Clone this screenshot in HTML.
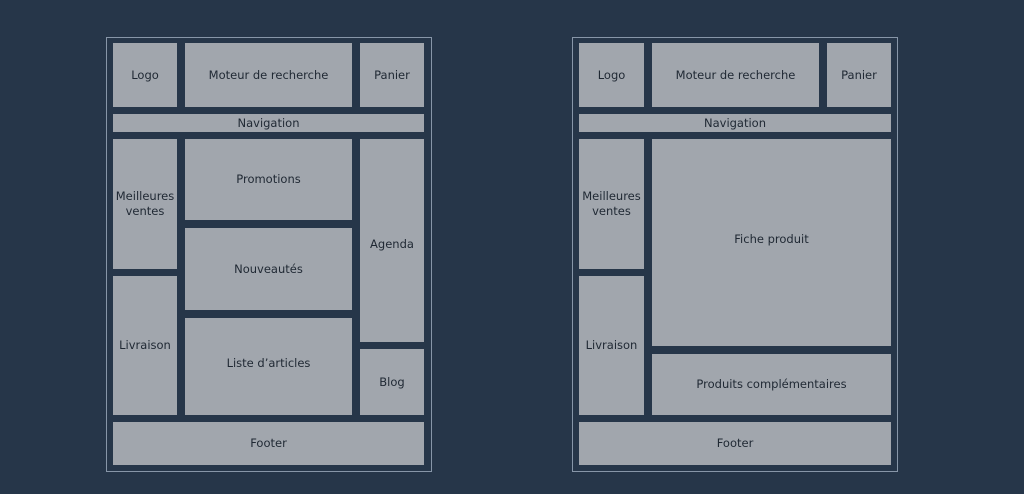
<!DOCTYPE html>
<html><head><meta charset="utf-8"><style>
body{margin:0;width:1024px;height:494px;background:#263649;position:relative;overflow:hidden;font-family:"DejaVu Sans","Liberation Sans",sans-serif;}
.f{position:absolute;border:1px solid #8796a8;box-sizing:border-box;}
.b{position:absolute;background:#a1a6ad;color:#1f2833;font-size:11.5px;display:flex;align-items:center;justify-content:center;text-align:center;line-height:15px;}
</style></head><body>
<div class="f" style="left:106px;top:37px;width:326px;height:435px"></div>
<div class="b" style="left:113px;top:43px;width:64px;height:64px">Logo</div>
<div class="b" style="left:185px;top:43px;width:167px;height:64px">Moteur de recherche</div>
<div class="b" style="left:360px;top:43px;width:64px;height:64px">Panier</div>
<div class="b" style="left:113px;top:114px;width:311px;height:18px">Navigation</div>
<div class="b" style="left:113px;top:139px;width:64px;height:130px">Meilleures<br>ventes</div>
<div class="b" style="left:113px;top:276px;width:64px;height:139px">Livraison</div>
<div class="b" style="left:185px;top:139px;width:167px;height:81px">Promotions</div>
<div class="b" style="left:185px;top:228px;width:167px;height:82px">Nouveautés</div>
<div class="b" style="left:185px;top:318px;width:167px;height:97px;padding-bottom:6px;box-sizing:border-box">Liste d’articles</div>
<div class="b" style="left:360px;top:139px;width:64px;height:203px;padding-top:8px;box-sizing:border-box">Agenda</div>
<div class="b" style="left:360px;top:349px;width:64px;height:66px">Blog</div>
<div class="b" style="left:113px;top:422px;width:311px;height:43px">Footer</div>

<div class="f" style="left:572px;top:37px;width:326px;height:435px"></div>
<div class="b" style="left:579px;top:43px;width:65px;height:64px">Logo</div>
<div class="b" style="left:652px;top:43px;width:167px;height:64px">Moteur de recherche</div>
<div class="b" style="left:827px;top:43px;width:64px;height:64px">Panier</div>
<div class="b" style="left:579px;top:114px;width:312px;height:18px">Navigation</div>
<div class="b" style="left:579px;top:139px;width:65px;height:130px">Meilleures<br>ventes</div>
<div class="b" style="left:579px;top:276px;width:65px;height:139px">Livraison</div>
<div class="b" style="left:652px;top:139px;width:239px;height:207px;padding-bottom:6px;box-sizing:border-box">Fiche produit</div>
<div class="b" style="left:652px;top:354px;width:239px;height:61px">Produits complémentaires</div>
<div class="b" style="left:579px;top:422px;width:312px;height:43px">Footer</div>
</body></html>
